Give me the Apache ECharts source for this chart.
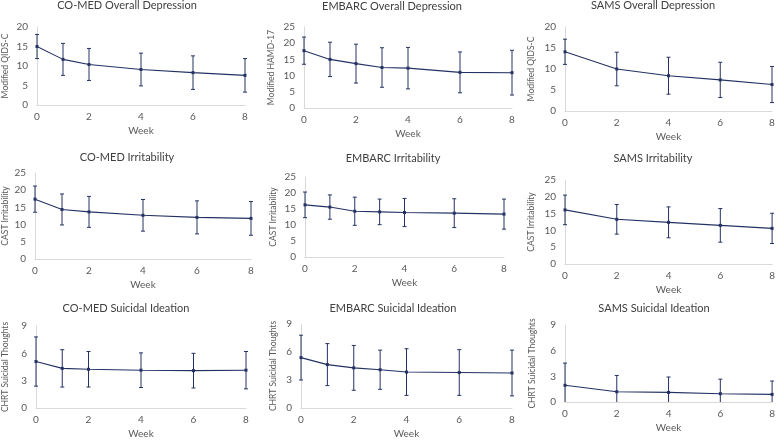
<!DOCTYPE html>
<html>
<head>
<meta charset="utf-8">
<script src="https://cdn.jsdelivr.net/npm/echarts@6/dist/echarts.min.js"></script>
<style>
html,body{margin:0;padding:0;background:#fff;}
#chart{width:778px;height:440px;}
</style>
</head>
<body>
<div id="chart"></div>
<script>
// ---- Data ----
const titles = [
  'CO-MED Overall Depression', 'EMBARC Overall Depression', 'SAMS Overall Depression',
  'CO-MED Irritability', 'EMBARC Irritability', 'SAMS Irritability',
  'CO-MED Suicidal Ideation', 'EMBARC Suicidal Ideation', 'SAMS Suicidal Ideation'
];
const yNames = [
  'Modified QIDS-C', 'Modified HAMD-17', 'Modified QIDS-C',
  'CAST Irritability', 'CAST Irritability', 'CAST Irritability',
  'CHRT Suicidal Thoughts', 'CHRT Suicidal Thoughts', 'CHRT Suicidal Thoughts'
];
const xName = 'Week';
const xTicks = [0, 2, 4, 6, 8];
const yMaxes = [20, 25, 20, 25, 25, 25, 9, 9, 9];
const yIntervals = [5, 5, 5, 5, 5, 5, 3, 3, 3];

const comedWeeks = [0, 1, 2, 4, 6, 8];
const embarcWeeks = [0, 1, 2, 3, 4, 6, 8];
const samsWeeks = [0, 2, 4, 6, 8];

const comedDepMean = [15.0, 11.7, 10.4, 9.1, 8.3, 7.6];
const comedDepSD   = [3.1, 4.1, 4.1, 4.2, 4.3, 4.3];
const embarcDepMean = [17.7, 15.0, 13.7, 12.5, 12.3, 11.0, 10.9];
const embarcDepSD   = [4.2, 5.3, 6.0, 6.1, 6.4, 6.3, 6.9];
const samsDepMean = [14.1, 10.0, 8.4, 7.4, 6.3];
const samsDepSD   = [3.0, 4.0, 4.4, 4.2, 4.3];

const comedIrrMean = [17.4, 14.4, 13.7, 12.7, 12.1, 11.8];
const comedIrrSD   = [3.8, 4.5, 4.5, 4.6, 4.8, 4.9];
const embarcIrrMean = [16.3, 15.6, 14.3, 14.1, 13.9, 13.7, 13.4];
const embarcIrrSD   = [4.0, 3.8, 4.4, 4.0, 4.4, 4.5, 4.7];
const samsIrrMean = [16.1, 13.3, 12.4, 11.5, 10.6];
const samsIrrSD   = [4.4, 4.4, 4.6, 5.0, 4.5];

const comedSIMean = [5.1, 4.35, 4.25, 4.15, 4.1, 4.15];
const comedSISD   = [2.7, 2.05, 1.95, 1.9, 1.9, 2.05];
const embarcSIMean = [5.4, 4.65, 4.3, 4.1, 3.85, 3.8, 3.75];
const embarcSISD   = [2.4, 2.25, 2.4, 2.1, 2.5, 2.45, 2.45];
const samsSIMean = [1.95, 1.2, 1.12, 0.97, 0.89];
const samsSISD   = [2.6, 1.9, 1.8, 1.7, 1.56];

const panelWeeks = [comedWeeks, embarcWeeks, samsWeeks, comedWeeks, embarcWeeks, samsWeeks, comedWeeks, embarcWeeks, samsWeeks];
const panelMeans = [comedDepMean, embarcDepMean, samsDepMean, comedIrrMean, embarcIrrMean, samsIrrMean, comedSIMean, embarcSIMean, samsSIMean];
const panelSDs   = [comedDepSD, embarcDepSD, samsDepSD, comedIrrSD, embarcIrrSD, samsIrrSD, comedSISD, embarcSISD, samsSISD];

// ---- Layout ----
const grids = [
  {left: 36,  top: 27,  width: 209, height: 78},
  {left: 304, top: 27,  width: 208, height: 81},
  {left: 565, top: 27,  width: 207, height: 84},
  {left: 32,  top: 173, width: 219, height: 86},
  {left: 305, top: 177, width: 199, height: 80},
  {left: 565, top: 180, width: 211, height: 84},
  {left: 33,  top: 326, width: 213, height: 83},
  {left: 301, top: 324, width: 211, height: 86},
  {left: 565, top: 325, width: 211, height: 77}
];
const titleCenters = [
  [127, 5.5], [392, 6], [653, 5.5],
  [127, 157], [393, 158], [653, 158.5],
  [126, 308.7], [393, 308.7], [654, 308.7]
];
const yNameGaps = [27, 28, 29, 25, 27, 29, 26, 23, 28];

const FONT = 'Lato';
const LINE = '#243263';
const AXIS = '#d9d9d9';
const TXT = '#595959';

const option = {
  animation: false,
  backgroundColor: '#ffffff',
  textStyle: {fontFamily: FONT},
  title: titles.map((t, i) => ({
    text: t, left: titleCenters[i][0], top: titleCenters[i][1] - 6.5, textAlign: 'center',
    padding: 0,
    textStyle: {fontFamily: FONT, fontSize: 11, lineHeight: 13, fontWeight: 'normal', color: '#404040'}
  })),
  grid: grids.map(g => Object.assign({containLabel: false}, g)),
  xAxis: grids.map((g, i) => ({
    type: 'value', gridIndex: i, min: 0, max: 8, interval: 2,
    name: xName, nameLocation: 'middle', nameGap: 21,
    nameTextStyle: {fontFamily: FONT, fontSize: 10, color: TXT},
    axisLine: {show: true, lineStyle: {color: AXIS, width: 1}},
    axisTick: {show: false},
    splitLine: {show: false},
    axisLabel: {fontFamily: FONT, fontSize: 10, color: TXT, margin: 7,
      customValues: xTicks}
  })),
  yAxis: grids.map((g, i) => ({
    type: 'value', gridIndex: i, min: 0, max: yMaxes[i], interval: yIntervals[i],
    name: yNames[i], nameLocation: 'middle', nameGap: yNameGaps[i], nameRotate: 90,
    nameTextStyle: {fontFamily: FONT, fontSize: 8.5, color: TXT},
    axisLine: {show: true, lineStyle: {color: AXIS, width: 1}},
    axisTick: {show: false},
    splitLine: {show: false},
    axisLabel: {fontFamily: FONT, fontSize: 10, color: TXT, margin: 9}
  })),
  series: []
};

for (let i = 0; i < 9; i++) {
  const weeks = panelWeeks[i], means = panelMeans[i], sds = panelSDs[i];
  option.series.push({
    type: 'line', xAxisIndex: i, yAxisIndex: i,
    data: weeks.map((w, k) => [w, means[k]]),
    symbol: 'rect', symbolSize: 3, showSymbol: true,
    lineStyle: {color: LINE, width: 1.1},
    itemStyle: {color: LINE},
    z: 3
  });
  const yMin = 0;
  option.series.push({
    type: 'custom', xAxisIndex: i, yAxisIndex: i,
    data: weeks.map((w, k) => [w, means[k] - sds[k], means[k] + sds[k]]),
    renderItem: function (params, api) {
      const x = api.value(0), lo = api.value(1), hi = api.value(2);
      const pHi = api.coord([x, hi]);
      const clipped = lo < yMin;
      const pLo = api.coord([x, clipped ? yMin : lo]);
      const hw = 2;
      const st = {stroke: LINE, lineWidth: 1};
      const children = [
        {type: 'line', shape: {x1: pHi[0], y1: pHi[1], x2: pLo[0], y2: pLo[1]}, style: st},
        {type: 'line', shape: {x1: pHi[0] - hw, y1: pHi[1], x2: pHi[0] + hw, y2: pHi[1]}, style: st}
      ];
      if (!clipped) {
        children.push({type: 'line', shape: {x1: pLo[0] - hw, y1: pLo[1], x2: pLo[0] + hw, y2: pLo[1]}, style: st});
      }
      return {type: 'group', children: children};
    },
    z: 2
  });
}

const chart = echarts.init(document.getElementById('chart'), null, {renderer: 'canvas'});
chart.setOption(option);
</script>
</body>
</html>
